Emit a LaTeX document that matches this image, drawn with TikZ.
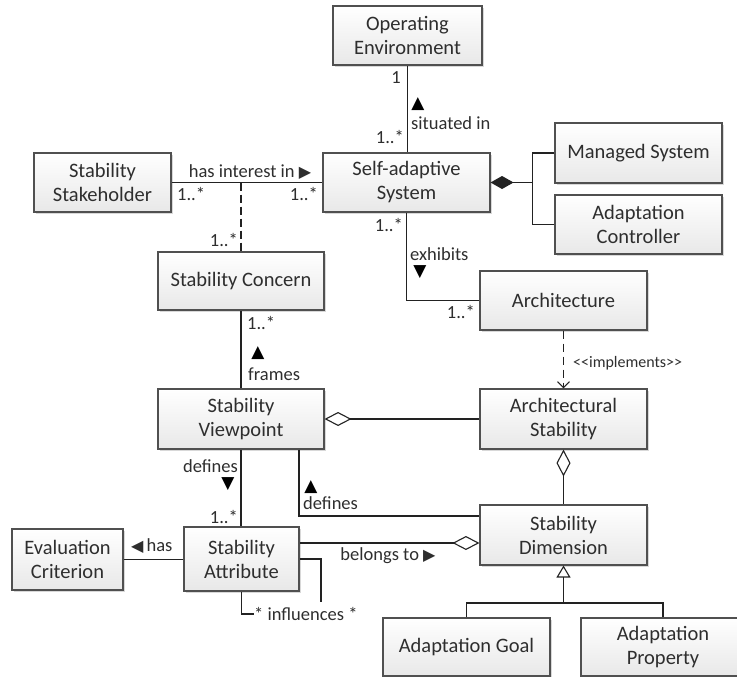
\documentclass[tikz,border=0pt]{standalone}
\usepackage{fontspec}
\setmainfont{Carlito}
\newfontfamily\symfont{DejaVu Sans}
\usetikzlibrary{arrows.meta,shadows,calc}
\definecolor{ink}{HTML}{2E2E2E}
\definecolor{edgec}{HTML}{505050}
\definecolor{linec}{HTML}{222222}
\tikzset{
  cls/.style={draw=edgec, line width=1.1pt, top color=white, bottom color=black!9,
    drop shadow={shadow xshift=2pt, shadow yshift=-2pt, fill=black!30, opacity=0.5},
    align=center, text=ink, font=\fontsize{20.5}{24}\selectfont, inner sep=0pt},
  lbl/.style={text=ink, font=\fontsize{18.5}{22}\selectfont, inner sep=0pt},
  smalllbl/.style={text=ink, font=\fontsize{16}{19}\selectfont, inner sep=0pt},
  tri/.style={text=black, font=\symfont\fontsize{17}{17}\selectfont, inner sep=0pt},
  conn/.style={draw=linec, line width=1.1pt},
  odiamond/.style={{Diamond[open,length=27pt,width=14pt]}-},
}
\newcommand{\tr}[1]{{\symfont\fontsize{16}{16}\selectfont #1}}
\begin{document}
\begin{tikzpicture}[x=1pt,y=-1pt]
\fill[white] (0,0) rectangle (737,677);
\useasboundingbox (0,0) rectangle (737,677);

% classes
\node[cls, minimum width=149pt, minimum height=59pt] (oe) at (407.5,35.5) {Operating\\Environment};
\node[cls, minimum width=137pt, minimum height=59pt] (sh) at (102.5,182.5) {Stability\\Stakeholder};
\node[cls, minimum width=167pt, minimum height=59pt] (sas) at (406.5,182.5) {Self-adaptive\\System};
\node[cls, minimum width=167pt, minimum height=60pt] (ms) at (638.5,153) {Managed System};
\node[cls, minimum width=167pt, minimum height=59pt] (ac) at (638.5,224.5) {Adaptation\\Controller};
\node[cls, minimum width=166pt, minimum height=58pt] (sc) at (241,281) {Stability Concern};
\node[cls, minimum width=167pt, minimum height=59pt] (ar) at (563.5,300.5) {Architecture};
\node[cls, minimum width=166pt, minimum height=60pt] (sv) at (241,419) {Stability\\Viewpoint};
\node[cls, minimum width=167pt, minimum height=60pt] (as) at (563.5,419) {Architectural\\Stability};
\node[cls, minimum width=111pt, minimum height=61pt] (ec) at (67.5,559.5) {Evaluation\\Criterion};
\node[cls, minimum width=115pt, minimum height=64pt] (sa) at (241.5,559) {Stability\\Attribute};
\node[cls, minimum width=167pt, minimum height=60pt] (sd) at (563.5,535) {Stability\\Dimension};
\node[cls, minimum width=167pt, minimum height=58pt] (ag) at (466.5,647) {Adaptation Goal};
\node[cls, minimum width=164pt, minimum height=58pt] (ap) at (663,647) {Adaptation\\Property};

% labels
\node[lbl] (l1) at (396,78) {1};
\node[tri] (t1) at (418,104) {▲};
\node[lbl, anchor=west] (l2) at (411,123) {situated in};
\node[lbl, anchor=east] (l3) at (404,137) {1..*};
\node[lbl] (l4) at (250,172) {has interest in \tr{▶}};
\node[lbl, anchor=west] (l5) at (177,194) {1..*};
\node[lbl, anchor=east] (l6) at (318,194) {1..*};
\node[lbl, anchor=east] (l7) at (238,240) {1..*};
\node[lbl, anchor=east] (l8) at (403,225) {1..*};
\node[lbl, anchor=west] (l9) at (410,254) {exhibits};
\node[tri] (t2) at (420,272) {▼};
\node[lbl, anchor=east] (l10) at (475,312) {1..*};
\node[smalllbl, anchor=west] (l11) at (573,363) {<\kern0pt<implements>\kern0pt>};
\node[lbl, anchor=west] (l12) at (247,323) {1..*};
\node[tri] (t3) at (258,353) {▲};
\node[lbl, anchor=west] (l13) at (248,374) {frames};
\node[lbl, anchor=east] (l14) at (238,466) {defines};
\node[tri] (t4) at (228,484) {▼};
\node[lbl, anchor=east] (l15) at (238,517) {1..*};
\node[tri] (t5) at (311,487) {▲};
\node[lbl, anchor=west] (l16) at (303,503) {defines};
\node[lbl] (l17) at (388,556) {belongs to \tr{▶}};
\node[lbl, anchor=west] (l18) at (131,546) {\tr{◀}\,has};
\node[lbl, anchor=west] (inf) at (254,614) {* influences *};

% connectors
\draw[conn] (oe.south) -- (oe.south |- sas.north);
\draw[conn] (sh.east) -- (sas.west);
\draw[conn, dash pattern=on 8pt off 4pt] (sc.north |- sh.east) -- (sc.north);
\coordinate (cj) at ($(sas.east)+(42pt,0pt)$);
\draw[conn, {Diamond[length=23pt,width=13pt]}-] (sas.east) -- (cj);
\draw[conn] (ms.west) -| (cj) |- (ac.west);
\draw[conn] (sas.south) |- (ar.west);
\draw[conn, dash pattern=on 8pt off 5pt, -{Straight Barb[length=6pt,width=12pt]}] (ar.south) -- (as.north);
\draw[conn] (sc.south) -- (sv.north);
\draw[conn, odiamond] (sv.east) -- (as.west);
\draw[conn, odiamond] (as.south) -- (sd.north);
\draw[conn] (sv.south) -- (sv.south |- sa.north);
\draw[conn] ([xshift=58pt]sv.south) |- ([yshift=19pt]sd.west);
\draw[conn, odiamond] ([yshift=-8pt]sd.west) coordinate (bt) -- (bt -| sa.east);
\draw[conn] (ec.east) -- (ec.east -| sa.west);
\draw[conn] (sa.south) |- (inf.west);
\coordinate (infe) at (321,602);
\draw[conn] (sa.east) -| (infe);
\coordinate (gy) at (0,603);
\coordinate (gj) at (sd.south |- gy);
\draw[conn] (ag.north) |- (gj) -| (ap.north);
\draw[conn, -{Triangle[open,length=12pt,width=14pt]}] (gj) -- (sd.south);
\end{tikzpicture}
\end{document}
